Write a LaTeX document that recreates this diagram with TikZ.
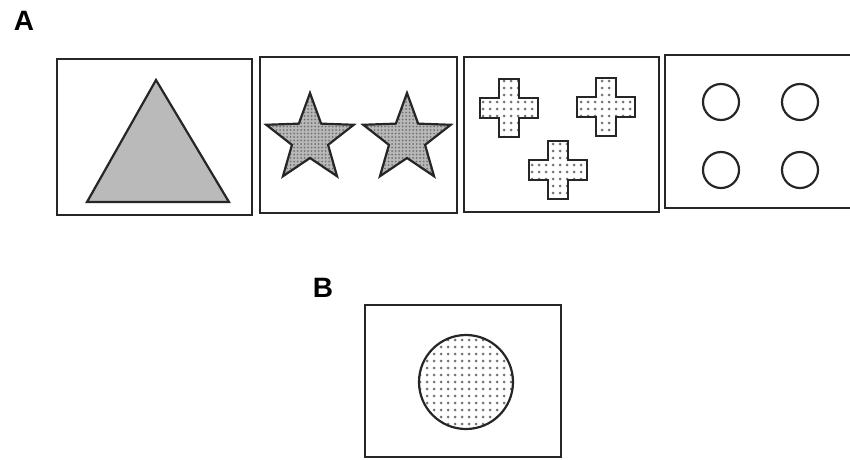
\documentclass[tikz,border=0pt]{standalone}
\usepackage{fontspec}
\setmainfont{Liberation Sans}
\usetikzlibrary{patterns.meta}
\begin{document}
\begin{tikzpicture}[x=1pt,y=-1pt,
  panel/.style={draw=black!85,line width=2.2pt},
  figline/.style={draw=black!85,line width=2.2pt,line join=miter},
  lbl/.style={font=\bfseries\fontsize{28}{28}\selectfont,inner sep=0pt},
  stardots/.style={pattern={Dots[distance=3.5pt,radius=1pt]},pattern color=black!55},
  sparsedots/.style={pattern={Dots[distance=7pt,radius=1.5pt]},pattern color=black!55}]
\useasboundingbox (0,0) rectangle (850,459);
% labels
\node[lbl] (labA) at (24,21) {A};
\node[lbl] (labB) at (323,288) {B};
% panels
\draw[panel] (57,59) rectangle (252,215);
\draw[panel] (260,57) rectangle (457,213);
\draw[panel] (464,57) rectangle (659,212);
\draw[panel] (872,55) -- (665,55) -- (665,208) -- (872,208);
\draw[panel] (365,305) rectangle (561,457);
% triangle
\draw[figline,fill=black!27] (156,80) -- (229,202) -- (87,202) -- cycle;
% stars
\foreach \cx in {310,407}{
  \path[fill=black!28] (\cx,139) +(270:46) -- +(306:19) -- +(342:46) -- +(18:19) -- +(54:46) -- +(90:19) -- +(126:46) -- +(162:19) -- +(198:46) -- +(234:19) -- cycle;
  \path[stardots] (\cx,139) +(270:46) -- +(306:19) -- +(342:46) -- +(18:19) -- +(54:46) -- +(90:19) -- +(126:46) -- +(162:19) -- +(198:46) -- +(234:19) -- cycle;
  \draw[figline] (\cx,139) +(270:46) -- +(306:19) -- +(342:46) -- +(18:19) -- +(54:46) -- +(90:19) -- +(126:46) -- +(162:19) -- +(198:46) -- +(234:19) -- cycle;
}
% crosses
\foreach \cx/\cy in {509/108,606/107,558/170}{
  \path[sparsedots] (\cx-10,\cy-29) -- (\cx+10,\cy-29) -- (\cx+10,\cy-10) -- (\cx+29,\cy-10) -- (\cx+29,\cy+10) -- (\cx+10,\cy+10) -- (\cx+10,\cy+29) -- (\cx-10,\cy+29) -- (\cx-10,\cy+10) -- (\cx-29,\cy+10) -- (\cx-29,\cy-10) -- (\cx-10,\cy-10) -- cycle;
  \draw[figline] (\cx-10,\cy-29) -- (\cx+10,\cy-29) -- (\cx+10,\cy-10) -- (\cx+29,\cy-10) -- (\cx+29,\cy+10) -- (\cx+10,\cy+10) -- (\cx+10,\cy+29) -- (\cx-10,\cy+29) -- (\cx-10,\cy+10) -- (\cx-29,\cy+10) -- (\cx-29,\cy-10) -- (\cx-10,\cy-10) -- cycle;
}
% circles
\foreach \cx/\cy in {721/102,800/102,721/170,800/170}{
  \draw[figline] (\cx,\cy) circle[radius=18];
}
% big dotted circle
\path[sparsedots] (466,382) circle[radius=47];
\draw[figline] (466,382) circle[radius=47];
\end{tikzpicture}
\end{document}
